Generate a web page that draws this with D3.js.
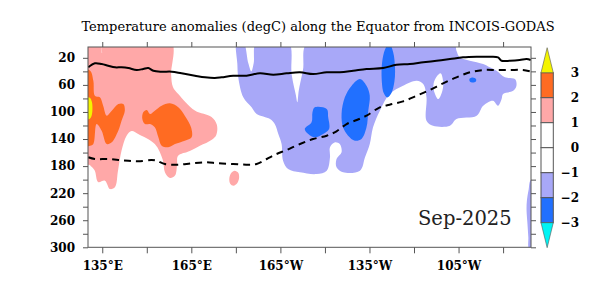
<!DOCTYPE html>
<html>
<head>
<meta charset="utf-8">
<script src="https://cdn.jsdelivr.net/npm/d3@7"></script>
<style>
body { margin: 0; background: #fff; }
svg text { font-family: "DejaVu Serif", serif; }
</style>
</head>
<body>
<div id="Results"><svg width="606" height="300"></svg></div>
<script>
// axis ticks (lon in degrees east, depth in m)
var lonMajor = [135, 165, 195, 225, 255];
var lonMinor = [150, 180, 210, 240, 270];
var depthMajor = [20, 60, 100, 140, 180, 220, 260, 300];
var depthMinor = [40, 80, 120, 160, 200, 240, 280];

// shading levels (degC) and colours from >3 down to <-3
var levels = [3, 2, 1, 0, -1, -2, -3];
var shadeColors = ['#f4f400', '#ff6b22', '#ffa8a8', '#ffffff', '#ffffff', '#a8a8f8', '#2170ff', '#00f4f4'];

// anomaly > 1
var warm1 = [[128,-5],[134.2,-5],[134.9,13],[135.5,-5],[158.1,-5],[158.2,45],[158.8,63],[160.6,73.5],[166.2,98],
	[171.8,107.5],[173.6,119],[173.4,134],[171.9,141],[167.9,150],[164.5,157.7],[160.5,165],[160.2,178],[159.5,194],
	[157.8,197.6],[156.1,189],[155.4,171],[152.7,147.4],[147.1,132.6],[144.9,128.2],[143.2,135],[141.5,157],
	[140.3,187],[139.3,211],[137.6,214],[135.9,201.6],[133.6,203.5],[132.5,187],[131.4,181],[130.5,178],[128,178]];
var warmDot = [[179.6,187],[180.8,190],[181.1,197],[180.5,205],[179.2,209],[178.1,206],[177.8,198],[178.5,190]];
// anomaly > 2
var warm2a = [[128,38],[130.9,39],[132.0,54],[132.5,76],[134.2,78.4],[135.3,90.8],[136.5,105.5],[138.2,98.2],
	[140.4,88.3],[142.1,88.3],[142.6,98.2],[141.5,112.9],[140.4,127.7],[138.2,144.8],[136.5,147.4],[134.8,127.7],
	[133.1,117.8],[132.0,147.4],[130.9,150],[128,150]];
var warm2b = [[150.0,97],[151.1,103],[152.7,98.2],[155.0,90.8],[157.8,87.2],[160.6,93.1],[162.8,105.5],[164.9,122.7],
	[165.1,137.5],[162.8,142.5],[159.5,147.4],[157.2,152.2],[155.0,149.9],[153.9,137.5],[152.7,122.7],[151.1,117.8],
	[149.4,117.8],[148.5,110.4],[148.8,100.5]];
// anomaly > 3
var warm3 = [[128,78],[130.8,79],[131.5,85],[131.7,94],[131.5,104],[130.8,110],[128,111]];

// anomaly < -1
var cool1 = [[180.3,-5],[182.4,-5],[184.2,28],[185.2,40],[186.0,28],[187.0,-5],[197.6,-5],[198.8,45],[200.2,75],
	[200.7,85.7],[201.2,68],[202.6,38],[204.4,-5],[253.2,-5],[254.3,9.5],[255.4,19.3],[258.8,24.3],[263.3,29.2],
	[265.5,34],[267.8,39.1],[270.6,48.8],[274.0,51.3],[274.5,61.2],[273.4,68.6],[270.0,73.5],[269.5,80.9],
	[268.3,90.8],[266.6,83.4],[263.3,90.8],[261.1,105.5],[254.3,110.4],[252.1,120.3],[246.4,120.3],[244.2,112.9],
	[244.2,78.4],[243.1,58.7],[240.9,53.8],[236.3,61.2],[231.8,73.5],[228.5,98.2],[226.2,122.7],[225.1,147.4],
	[223.5,167],[221.8,186.8],[216.1,189.2],[213.9,181.8],[213.9,169.5],[215.6,159.6],[215.0,147.4],[213.4,144.8],
	[211.7,152.2],[211.7,167],[210.6,186.8],[207.2,191.7],[201.6,189.2],[197.6,184.3],[195.9,172],[195.4,147.4],
	[194.3,132.6],[193.1,117.8],[191.5,110.4],[187.0,103],[185.3,93.1],[182.5,78.4],[180.8,48.8],[180.5,29.2]];
var coolHole = [[249.0,43],[249.8,55],[249.6,68],[248.2,81],[246.8,70],[246.6,58],[247.6,48]];
var coolEdge = [[279.4,200],[278.6,215],[278.0,232],[277.9,245],[278.2,265],[278.5,285],[278.8,302],[282,302],[282,200]];
// anomaly < -2
var cool2a = [[206.6,93.1],[210.6,95.6],[211.1,107.9],[211.4,125.2],[209.4,132.6],[206.6,137.5],[204.4,132.6],
	[203.2,125.2],[205.5,115.3],[205.8,100.5]];
var cool2b = [[221.8,51.3],[224.0,61.2],[225.1,76],[224.6,98.2],[224.0,122.7],[222.3,140],[220.1,142.5],[217.8,135.1],
	[216.1,122.7],[215.6,103],[216.7,78.4],[219.0,61.2]];
var cool2c = [[231.6,-2],[233.0,12],[233.6,35],[233.4,55],[232.4,72],[231.0,78.5],[229.8,72],[229.1,50],[229.3,25],[230.2,8]];
var cool2d = [[259.8,49],[260.9,51.5],[260.8,55],[259.8,56.5],[258.8,55],[258.7,51]];

// 20 degC isotherm depth: this month (solid) and climatology (dashed)
var d20Now = [[130.3,34],[132.5,28.1],[134.8,29.2],[137.0,31.7],[139.3,34],[141.5,34],[143.8,35.1],[146.6,38],
	[148.8,36.5],[150.5,35.1],[152.2,39.1],[155.0,40.5],[158.4,40.5],[161.7,42.9],[166.2,46.4],[169.6,48.8],
	[172.9,49.8],[175.2,48.8],[179.1,46.4],[183.6,46.4],[188.1,42.9],[192.6,45],[197.1,42.9],[201.6,41.4],
	[206.0,43.9],[210.6,41.4],[215.0,41.4],[219.5,39.1],[224.0,36.5],[229.6,35.1],[234.1,30.2],[238.6,29.2],
	[243.1,26.6],[247.6,24.3],[252.1,21.8],[256.5,19.3],[261.1,18.4],[265.5,18.4],[268.3,19.3],[269.5,24.3],
	[272.3,24.3],[275.6,23.3],[277.9,21.8],[279.3,23.3]];
var d20Clim = [[130.3,167],[132.5,169.5],[137.0,169.5],[140.4,171],[143.8,172],[147.1,172.9],[151.6,171],[153.3,172],
	[156.1,176.9],[160.6,177.9],[165.1,175.9],[169.6,174.4],[174.1,175.9],[179.1,176.9],[183.6,177.9],[187.0,176.9],
	[190.4,169.5],[193.7,162.1],[197.1,156.2],[201.6,147.4],[206.0,140],[210.6,135.1],[213.9,128.6],[217.3,117.8],
	[220.7,111.9],[224.0,105.5],[228.5,93.1],[231.8,89.3],[236.3,84.3],[240.9,76],[245.3,67.6],[249.8,57.7],
	[254.3,48.8],[258.8,41.4],[263.3,38],[267.8,38],[272.3,38],[276.7,38],[279.3,40]];

d3.select(window).on('load', init);

function lonLabel(d) {
	return d < 180 ? d + '°E' : (360 - d) + '°W';
}

function init() {
	var svg = d3.select('#Results').select('svg');

	var x = d3.scaleLinear().domain([130.2, 279.4]).range([88, 531]);
	var y = d3.scaleLinear().domain([4, 300]).range([47, 247.3]);

	svg.append('defs').append('clipPath').attr('id', 'plotClip')
		.append('rect')
		.attr('x', x.range()[0]).attr('y', y.range()[0])
		.attr('width', x.range()[1] - x.range()[0])
		.attr('height', y.range()[1] - y.range()[0]);

	var shape = d3.line()
		.x(function(d) { return x(d[0]); })
		.y(function(d) { return y(d[1]); })
		.curve(d3.curveCatmullRomClosed.alpha(0.5));

	var plot = svg.append('g').attr('clip-path', 'url(#plotClip)');

	var fills = [
		[warm1, shadeColors[2]], [warmDot, shadeColors[2]],
		[warm2a, shadeColors[1]], [warm2b, shadeColors[1]],
		[warm3, shadeColors[0]],
		[cool1, shadeColors[5]], [coolEdge, shadeColors[5]],
		[coolHole, shadeColors[3]],
		[cool2a, shadeColors[6]], [cool2b, shadeColors[6]], [cool2c, shadeColors[6]], [cool2d, shadeColors[6]]
	];
	plot.selectAll('.shade')
		.data(fills)
		.enter().append('path')
		.attr('class', 'shade')
		.attr('d', function(d) { return shape(d[0]); })
		.attr('fill', function(d) { return d[1]; });

	var isoLine = d3.line()
		.x(function(d) { return x(d[0]); })
		.y(function(d) { return y(d[1]); })
		.curve(d3.curveCatmullRom);

	plot.append('path')
		.attr('d', isoLine(d20Now))
		.attr('fill', 'none').attr('stroke', '#000').attr('stroke-width', 2);
	plot.append('path')
		.attr('d', isoLine(d20Clim))
		.attr('fill', 'none').attr('stroke', '#000').attr('stroke-width', 2)
		.attr('stroke-dasharray', '7,5');

	// frame
	svg.append('rect')
		.attr('x', 88).attr('y', 47)
		.attr('width', 443).attr('height', 200.3)
		.attr('fill', 'none').attr('stroke', '#555').attr('stroke-width', 1);

	var allLon = lonMajor.concat(lonMinor);
	var allDepth = depthMajor.concat(depthMinor);

	function styleAxis(g) {
		g.select('.domain').remove();
		g.style('color', '#555')
			.attr('font-family', '"DejaVu Serif", serif')
			.attr('font-size', 12)
			.attr('font-weight', 'bold');
		g.selectAll('text').attr('fill', '#000');
	}

	svg.append('g')
		.attr('transform', 'translate(88,0)')
		.call(d3.axisLeft(y).tickValues(depthMajor).tickSize(5).tickPadding(8))
		.call(styleAxis);
	svg.append('g')
		.attr('transform', 'translate(88,0)')
		.call(d3.axisLeft(y).tickValues(depthMinor).tickSize(5).tickFormat(''))
		.call(styleAxis);
	svg.append('g')
		.attr('transform', 'translate(531,0)')
		.call(d3.axisRight(y).tickValues(allDepth).tickSize(5).tickFormat(''))
		.call(styleAxis);
	svg.append('g')
		.attr('transform', 'translate(0,247.3)')
		.call(d3.axisBottom(x).tickValues(lonMajor).tickSize(6).tickPadding(8).tickFormat(lonLabel))
		.call(styleAxis);
	svg.append('g')
		.attr('transform', 'translate(0,247.3)')
		.call(d3.axisBottom(x).tickValues(lonMinor).tickSize(6).tickFormat(''))
		.call(styleAxis);
	svg.append('g')
		.attr('transform', 'translate(0,47)')
		.call(d3.axisTop(x).tickValues(allLon).tickSize(5).tickFormat(''))
		.call(styleAxis);

	// colour bar
	var bar = d3.scaleLinear().domain([3, -3]).range([72.7, 222.7]);
	var cb = svg.append('g');
	var boxes = d3.range(levels.length - 1);
	cb.selectAll('.box')
		.data(boxes)
		.enter().append('rect')
		.attr('class', 'box')
		.attr('x', 541).attr('width', 12.3)
		.attr('y', function(i) { return bar(levels[i]); })
		.attr('height', function(i) { return bar(levels[i + 1]) - bar(levels[i]); })
		.attr('fill', function(i) { return shadeColors[i + 1]; })
		.attr('stroke', '#555').attr('stroke-width', 1);
	cb.append('path')
		.attr('d', 'M541,' + bar(3) + 'L553.3,' + bar(3) + 'L547.15,' + bar(4) + 'Z')
		.attr('fill', shadeColors[0]).attr('stroke', '#555').attr('stroke-width', 0.6);
	cb.append('path')
		.attr('d', 'M541,' + bar(-3) + 'L553.3,' + bar(-3) + 'L547.15,' + bar(-4) + 'Z')
		.attr('fill', shadeColors[7]).attr('stroke', '#555').attr('stroke-width', 0.6);
	cb.selectAll('.lab')
		.data(levels)
		.enter().append('text')
		.attr('class', 'lab')
		.attr('x', 579)
		.attr('y', function(d) { return bar(d); })
		.attr('dy', '0.35em')
		.attr('text-anchor', 'end')
		.attr('font-size', 12)
		.attr('font-weight', 'bold')
		.text(function(d) { return d3.format('d')(d); });

	svg.append('text')
		.attr('x', 318).attr('y', 31)
		.attr('text-anchor', 'middle')
		.attr('font-size', 13)
		.text('Temperature anomalies (degC) along the Equator from INCOIS-GODAS');

	svg.append('text')
		.attr('x', 418).attr('y', 225)
		.attr('font-size', 19.5)
		.attr('fill', '#222')
		.text('Sep-2025');
}
</script>
</body>
</html>
